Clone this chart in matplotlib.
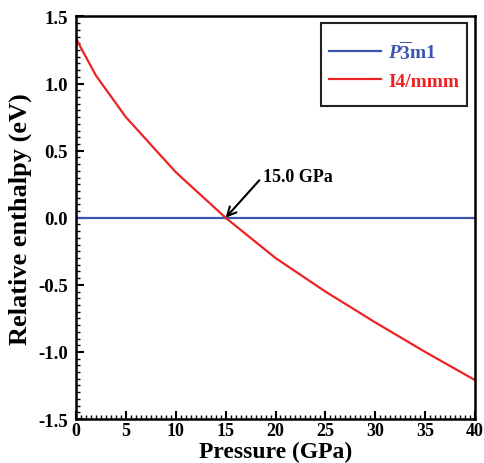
import matplotlib
matplotlib.use("Agg")
import matplotlib.pyplot as plt
from matplotlib.ticker import MultipleLocator
from matplotlib.patches import Rectangle

plt.rcParams['font.family'] = ['Liberation Serif', 'DejaVu Serif']
plt.rcParams['font.weight'] = 'bold'
plt.rcParams['axes.unicode_minus'] = False
plt.rcParams['mathtext.fontset'] = 'custom'
plt.rcParams['mathtext.rm'] = 'Liberation Serif:bold'
plt.rcParams['mathtext.it'] = 'Liberation Serif:bold:italic'
plt.rcParams['mathtext.bf'] = 'Liberation Serif:bold'

# Relative enthalpy vs pressure (P-3m1 taken as reference)
pressure = [0, 2, 5, 10, 15, 20, 25, 30, 35, 40]
h_p3m1 = [0.0, 0.0, 0.0, 0.0, 0.0, 0.0, 0.0, 0.0, 0.0, 0.0]
h_i4mmm = [1.335, 1.06, 0.75, 0.34, 0.0, -0.30, -0.55, -0.78, -1.0, -1.21]
transition_p = 15.0

blue = '#3A55B0'
red = '#EE2222'

fig = plt.figure(figsize=(4.85, 4.64), dpi=100)
ax = fig.add_axes([0.1567, 0.0948, 0.8227, 0.8675])

ax.plot(pressure, h_p3m1, color=blue, lw=1.6, label=r'$\mathit{P}\overline{3}$m1')
ax.plot(pressure, h_i4mmm, color=red, lw=1.6, label='I4/mmm')

ax.set_xlim(0, 40)
ax.set_ylim(-1.5, 1.5)
ax.xaxis.set_major_locator(MultipleLocator(5))
ax.xaxis.set_minor_locator(MultipleLocator(0.5))
ax.yaxis.set_major_locator(MultipleLocator(0.5))
ax.yaxis.set_minor_locator(MultipleLocator(0.05))
ax.tick_params(which='both', direction='in', top=False, right=False, labelsize=13.5, width=1.5)
ax.tick_params(which='major', length=6)
ax.tick_params(which='minor', length=3, width=1.0)
ax.tick_params(axis='y', pad=6)
ax.tick_params(axis='x', pad=2.5, labelsize=13)
for lbl in ax.get_xticklabels() + ax.get_yticklabels():
    lbl.set_fontweight('bold')
for s in ax.spines.values():
    s.set_linewidth(1.8)

ax.set_xlabel('Pressure (GPa)', fontsize=17, fontweight='bold', va='bottom')
ax.xaxis.set_label_coords(0.5, -0.107)
ax.set_ylabel('Relative enthalpy (eV)', fontsize=19, fontweight='bold', labelpad=4)

ax.annotate(f'{transition_p:.1f} GPa', xy=(transition_p, 0.0), xytext=(18.75, 0.31),
            fontsize=13, fontweight='bold', va='center', ha='left',
            arrowprops=dict(arrowstyle='->', color='black', lw=1.5, relpos=(0.0, 0.5),
                            shrinkA=1, shrinkB=0, mutation_scale=16))

# legend box
ax.add_patch(Rectangle((0.614, 0.7786), 0.366, 0.204, transform=ax.transAxes,
                       fill=False, edgecolor='#222222', lw=1.5, zorder=5))
leg = ax.legend(loc='center', bbox_to_anchor=(0.797, 0.8806), fontsize=14,
                frameon=False, labelcolor='linecolor',
                handlelength=2.7, borderpad=0.0, labelspacing=0.5, handletextpad=0.36)
for t in leg.get_texts():
    t.set_fontweight('bold')

fig.savefig('out.png', dpi=100)
